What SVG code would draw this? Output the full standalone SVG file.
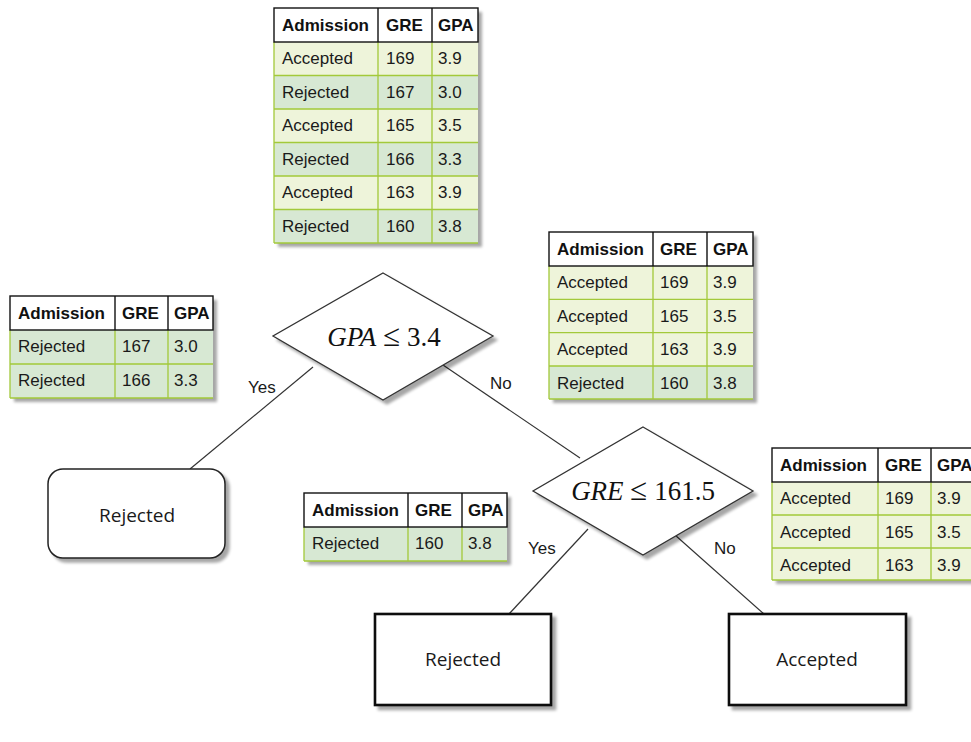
<svg xmlns="http://www.w3.org/2000/svg" width="971" height="742" viewBox="0 0 971 742">
  <style>
    .tbl-bg { fill: #ffffff; filter: url(#shadow); }
    .hdr { fill: #ffffff; stroke: #111111; stroke-width: 1.4; }
    .acc { fill: #eef4da; }
    .rej { fill: #d7e8d3; }
    .grid { stroke: #a3c93a; stroke-width: 1.3; fill: none; }
    .hline { stroke: #111111; stroke-width: 1.4; }
    .th { font-family: "Liberation Sans", Arial, sans-serif; font-size: 17px; font-weight: bold; fill: #111111; }
    .td { font-family: "Liberation Sans", Arial, sans-serif; font-size: 17px; fill: #1a1a1a; }
    .edge { stroke: #333333; stroke-width: 1.2; fill: none; }
    .lbl { font-family: "Liberation Sans", Arial, sans-serif; font-size: 17px; fill: #1a1a1a; }
    .dia { fill: #ffffff; stroke: #333333; stroke-width: 1.3; filter: url(#shadow); }
    .math { font-family: "Liberation Serif", "Times New Roman", serif; font-size: 27px; fill: #111111; }
    .rel { font-size: 31px; }
    .leaf { fill: #ffffff; stroke: #111111; stroke-width: 2.6; filter: url(#shadow); }
    .leaf-round { fill: #ffffff; stroke: #222222; stroke-width: 1.5; filter: url(#shadow); }
    .leaf-txt { font-family: "Open Sans", "DejaVu Sans", sans-serif; font-size: 19px; fill: #1a1a1a; text-anchor: middle; }
  </style>
  <defs>
    <filter id="shadow" x="-10%" y="-10%" width="130%" height="130%">
      <feGaussianBlur in="SourceAlpha" stdDeviation="1.6"/>
      <feOffset dx="4" dy="4"/>
      <feComponentTransfer>
        <feFuncA type="linear" slope="0.35"/>
      </feComponentTransfer>
      <feMerge>
        <feMergeNode/>
        <feMergeNode in="SourceGraphic"/>
      </feMerge>
    </filter>
  </defs>

  <!-- connectors -->
  <g id="connectors">
    <line class="edge" x1="313" y1="367" x2="190" y2="469"/>
    <line class="edge" x1="443" y1="365" x2="580" y2="458"/>
    <line class="edge" x1="588" y1="529" x2="509" y2="614"/>
    <line class="edge" x1="675" y1="535" x2="764" y2="614"/>
    <text class="lbl" x="248" y="393">Yes</text>
    <text class="lbl" x="490" y="389">No</text>
    <text class="lbl" x="528" y="554">Yes</text>
    <text class="lbl" x="714" y="554">No</text>
  </g>

  <!-- root split: all six applicants -->
  <g id="table-root">
    <rect class="tbl-bg" x="274" y="8" width="204" height="235"/>
    <rect class="acc" x="274" y="42" width="204" height="33.5"/>
    <rect class="rej" x="274" y="75.5" width="204" height="33.5"/>
    <rect class="acc" x="274" y="109" width="204" height="33.5"/>
    <rect class="rej" x="274" y="142.5" width="204" height="33.5"/>
    <rect class="acc" x="274" y="176" width="204" height="33.5"/>
    <rect class="rej" x="274" y="209.5" width="204" height="33.5"/>
    <path class="grid" d="M274 75.5H478M274 109H478M274 142.5H478M274 176H478M274 209.5H478M274 243H478M274 42V243M378 42V243M432 42V243"/>
    <rect class="hdr" x="274" y="8" width="204" height="34"/>
    <path class="hline" d="M378 8V42M432 8V42"/>
    <text class="th" x="282" y="31">Admission</text><text class="th" x="386" y="31">GRE</text><text class="th" x="438" y="31">GPA</text>
    <text class="td" x="282" y="64">Accepted</text><text class="td" x="386" y="64">169</text><text class="td" x="438" y="64">3.9</text>
    <text class="td" x="282" y="97.5">Rejected</text><text class="td" x="386" y="97.5">167</text><text class="td" x="438" y="97.5">3.0</text>
    <text class="td" x="282" y="131">Accepted</text><text class="td" x="386" y="131">165</text><text class="td" x="438" y="131">3.5</text>
    <text class="td" x="282" y="164.5">Rejected</text><text class="td" x="386" y="164.5">166</text><text class="td" x="438" y="164.5">3.3</text>
    <text class="td" x="282" y="198">Accepted</text><text class="td" x="386" y="198">163</text><text class="td" x="438" y="198">3.9</text>
    <text class="td" x="282" y="231.5">Rejected</text><text class="td" x="386" y="231.5">160</text><text class="td" x="438" y="231.5">3.8</text>
  </g>

  <!-- GPA <= 3.4, yes branch -->
  <g id="table-gpa-yes">
    <rect class="tbl-bg" x="10" y="296" width="203" height="102"/>
    <rect class="rej" x="10" y="330" width="203" height="68"/>
    <path class="grid" d="M10 364H213M10 398H213M10 330V398M115 330V398M168 330V398"/>
    <rect class="hdr" x="10" y="296" width="203" height="34"/>
    <path class="hline" d="M115 296V330M168 296V330"/>
    <text class="th" x="18" y="319">Admission</text><text class="th" x="122" y="319">GRE</text><text class="th" x="174" y="319">GPA</text>
    <text class="td" x="18" y="352">Rejected</text><text class="td" x="122" y="352">167</text><text class="td" x="174" y="352">3.0</text>
    <text class="td" x="18" y="386">Rejected</text><text class="td" x="122" y="386">166</text><text class="td" x="174" y="386">3.3</text>
  </g>

  <!-- GPA <= 3.4, no branch -->
  <g id="table-gpa-no">
    <rect class="tbl-bg" x="549" y="232" width="204" height="167"/>
    <rect class="acc" x="549" y="266" width="204" height="100"/>
    <rect class="rej" x="549" y="366" width="204" height="33"/>
    <path class="grid" d="M549 299.3H753M549 332.6H753M549 366H753M549 399H753M549 266V399M653 266V399M707 266V399"/>
    <rect class="hdr" x="549" y="232" width="204" height="34"/>
    <path class="hline" d="M653 232V266M707 232V266"/>
    <text class="th" x="557" y="255">Admission</text><text class="th" x="660" y="255">GRE</text><text class="th" x="713" y="255">GPA</text>
    <text class="td" x="557" y="288">Accepted</text><text class="td" x="660" y="288">169</text><text class="td" x="713" y="288">3.9</text>
    <text class="td" x="557" y="321.5">Accepted</text><text class="td" x="660" y="321.5">165</text><text class="td" x="713" y="321.5">3.5</text>
    <text class="td" x="557" y="355">Accepted</text><text class="td" x="660" y="355">163</text><text class="td" x="713" y="355">3.9</text>
    <text class="td" x="557" y="388.5">Rejected</text><text class="td" x="660" y="388.5">160</text><text class="td" x="713" y="388.5">3.8</text>
  </g>

  <!-- GRE <= 161.5, yes branch -->
  <g id="table-gre-yes">
    <rect class="tbl-bg" x="304" y="493" width="203" height="68"/>
    <rect class="rej" x="304" y="527" width="203" height="34"/>
    <path class="grid" d="M304 561H507M304 527V561M408 527V561M462 527V561"/>
    <rect class="hdr" x="304" y="493" width="203" height="34"/>
    <path class="hline" d="M408 493V527M462 493V527"/>
    <text class="th" x="312" y="516">Admission</text><text class="th" x="415" y="516">GRE</text><text class="th" x="468" y="516">GPA</text>
    <text class="td" x="312" y="549">Rejected</text><text class="td" x="415" y="549">160</text><text class="td" x="468" y="549">3.8</text>
  </g>

  <!-- GRE <= 161.5, no branch -->
  <g id="table-gre-no">
    <rect class="tbl-bg" x="772" y="448" width="210" height="132"/>
    <rect class="acc" x="772" y="482" width="210" height="98"/>
    <path class="grid" d="M772 515H982M772 548H982M772 580H982M772 482V580M878 482V580M931 482V580"/>
    <rect class="hdr" x="772" y="448" width="210" height="34"/>
    <path class="hline" d="M878 448V482M931 448V482"/>
    <text class="th" x="780" y="471">Admission</text><text class="th" x="885" y="471">GRE</text><text class="th" x="937" y="471">GPA</text>
    <text class="td" x="780" y="504">Accepted</text><text class="td" x="885" y="504">169</text><text class="td" x="937" y="504">3.9</text>
    <text class="td" x="780" y="537.5">Accepted</text><text class="td" x="885" y="537.5">165</text><text class="td" x="937" y="537.5">3.5</text>
    <text class="td" x="780" y="571">Accepted</text><text class="td" x="885" y="571">163</text><text class="td" x="937" y="571">3.9</text>
  </g>

  <!-- decision nodes -->
  <g id="split-gpa">
    <polygon class="dia" points="383,273 493,336 383,400 273,336"/>
    <text class="math" x="384" y="346" text-anchor="middle"><tspan font-style="italic">GPA</tspan> <tspan class="rel">≤</tspan> 3.4</text>
  </g>
  <g id="split-gre">
    <polygon class="dia" points="643,427 753,491 643,555 533,491"/>
    <text class="math" x="643" y="500" text-anchor="middle"><tspan font-style="italic">GRE</tspan> <tspan class="rel">≤</tspan> 161.5</text>
  </g>

  <!-- leaves -->
  <g id="leaf-rejected-1">
    <rect class="leaf-round" x="48" y="469" width="177" height="89" rx="15" ry="15"/>
    <text class="leaf-txt" x="137" y="522">Rejected</text>
  </g>
  <g id="leaf-rejected-2">
    <rect class="leaf" x="375" y="614" width="176" height="91"/>
    <text class="leaf-txt" x="463" y="666">Rejected</text>
  </g>
  <g id="leaf-accepted">
    <rect class="leaf" x="729" y="614" width="177" height="91"/>
    <text class="leaf-txt" x="817" y="666">Accepted</text>
  </g>
</svg>
